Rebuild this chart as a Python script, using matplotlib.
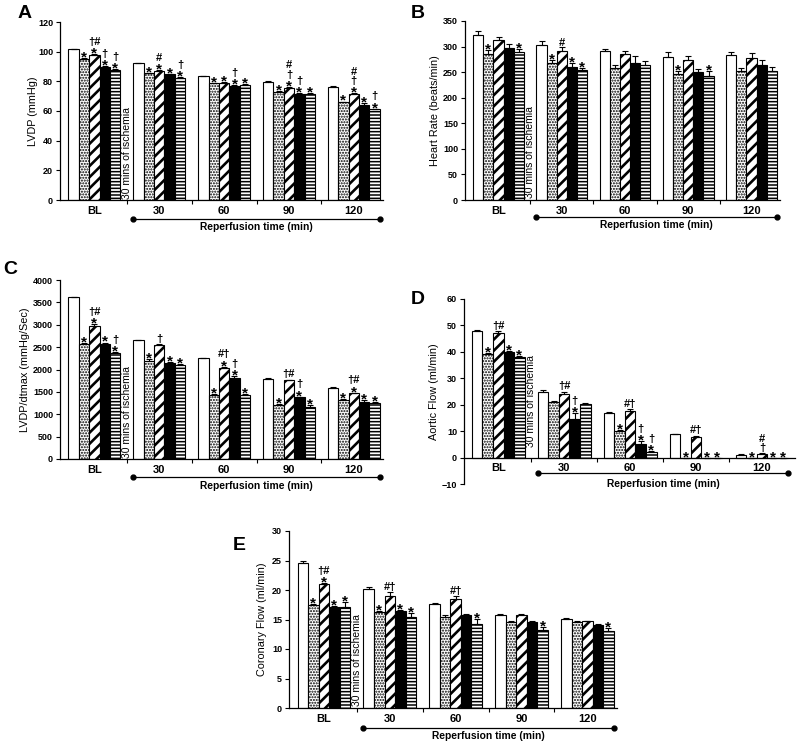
import numpy as np
import matplotlib.pyplot as plt
from matplotlib.textpath import TextPath
from matplotlib.font_manager import FontProperties

plt.rcParams['font.family'] = ['Liberation Sans', 'DejaVu Sans']
plt.rcParams['hatch.linewidth'] = 1.0

groups = ['BL', '30', '60', '90', '120']

# rows = the five bar styles (white, dots, diagonal, black, stripes), cols = groups
lvdp_mean = [[101.6, 92.1, 83.6, 79.8, 76.5],
             [95.3, 85.4, 78.7, 73.0, 65.9],
             [97.5, 87.2, 78.9, 75.7, 71.3],
             [89.9, 84.7, 76.9, 71.5, 63.8],
             [87.8, 82.5, 77.8, 71.5, 61.1]]
lvdp_err = [[0.4, 0.3, 0.3, 0.3, 0.3],
            [0.5, 0.5, 0.4, 0.5, 0.5],
            [0.6, 0.5, 0.4, 0.5, 0.5],
            [0.6, 0.5, 0.5, 0.5, 1.5],
            [0.5, 0.5, 0.5, 0.5, 0.5]]
lvdp_marks = [['', '', '', '', ''],
              ['*', '*', '*', '*', '*'],
              ['†#\n*', '#\n*', '*', '#\n†\n*', '#\n†\n*'],
              ['†\n*', '*', '†\n*', '†\n*', '*'],
              ['†\n*', '†\n*', '*', '*', '†\n*']]

hr_mean = [[323, 303, 291, 280, 284],
           [286, 267, 258, 247, 252],
           [313, 292, 285, 273, 278],
           [297, 260, 267, 250, 263],
           [290, 254, 264, 243, 253]]
hr_err = [[8, 7, 4, 9, 5],
          [7, 6, 6, 5, 6],
          [5, 7, 7, 9, 9],
          [8, 8, 15, 6, 10],
          [6, 5, 7, 10, 8]]
hr_marks = [['', '', '', '', ''],
            ['*', '*', '', '*', ''],
            ['', '#', '', '', ''],
            ['', '*', '', '', ''],
            ['*', '*', '', '*', '']]

dpdt_mean = [[3615, 2655, 2258, 1790, 1590],
             [2571, 2197, 1435, 1200, 1310],
             [2982, 2541, 2040, 1755, 1465],
             [2578, 2137, 1809, 1380, 1275],
             [2369, 2100, 1435, 1160, 1262]]
dpdt_err = [[15, 15, 10, 20, 10],
            [30, 30, 25, 20, 25],
            [30, 35, 25, 20, 20],
            [25, 20, 40, 15, 50],
            [20, 25, 15, 40, 15]]
dpdt_marks = [['', '', '', '', ''],
              ['*', '*', '*', '*', '*'],
              ['†#\n*', '†', '#†\n*', '†#', '†#\n*'],
              ['*', '*', '†\n*', '†\n*', '*'],
              ['†\n*', '*', '*', '*', '*']]

aortic_mean = [[48.0, 25.0, 16.8, 8.8, 1.0],
               [39.2, 20.9, 9.9, 0, 0],
               [47.0, 24.0, 17.8, 7.8, 1.3],
               [40.0, 14.5, 5.3, 0, 0],
               [38.0, 20.1, 2.2, 0, 0]]
aortic_err = [[0.4, 0.4, 0.3, 0.3, 0.2],
              [0.5, 0.6, 0.4, 0, 0],
              [1.0, 1.0, 0.5, 0.5, 0.3],
              [0.5, 2.3, 0.9, 0, 0],
              [0.5, 0.6, 0.3, 0, 0]]
aortic_marks = [['', '', '', '', ''],
                ['*', '', '*', '*', '*'],
                ['†#', '†#', '#†', '#†', '#\n†'],
                ['*', '†\n*', '†\n*', '*', '*'],
                ['*', '', '†\n*', '*', '*']]

coronary_mean = [[24.5, 20.2, 17.7, 15.8, 15.1],
                 [17.4, 16.2, 15.5, 14.5, 14.6],
                 [21.0, 19.0, 18.4, 15.7, 14.7],
                 [17.1, 16.4, 15.8, 14.6, 14.0],
                 [17.2, 15.4, 14.2, 13.2, 13.1]]
coronary_err = [[0.4, 0.3, 0.15, 0.15, 0.1],
                [0.15, 0.3, 0.3, 0.3, 0.2],
                [0.2, 0.6, 0.6, 0.3, 0.1],
                [0.15, 0.2, 0.15, 0.1, 0.2],
                [0.8, 0.7, 0.9, 0.6, 0.5]]
coronary_marks = [['', '', '', '', ''],
                  ['*', '*', '', '', ''],
                  ['†#\n*', '#†', '#†', '', ''],
                  ['*', '*', '', '', ''],
                  ['*', '*', '*', '*', '*']]

colors = ['white', 'white', 'white', 'black', 'white']
hatches = ['', '......', '///', '', '-----']
hatch_lw = [1.0, 1.0, 1.9, 1.0, 1.1]
bar_w = 0.16

mark_font = FontProperties(family='Liberation Sans', weight='bold')


def mark_size(line):
    return 11 if line == '*' else 8


def ink(line):
    ext = TextPath((0, 0), line, size=mark_size(line), prop=mark_font).get_extents()
    return ext.y0, ext.y1


def stack_marks(ax, x, top, txt):
    cur = 1.0  # points above the bar/error bar
    for line in txt.split('\n')[::-1]:
        lo, hi = ink(line)
        base = cur - lo
        ax.annotate(line, (x, top), xytext=(0, base), textcoords='offset points',
                    ha='center', va='baseline', fontsize=mark_size(line), fontweight='bold')
        cur = base + hi + 1.0


def draw_panel(rect, means, errs, marks, ylim, ystep, ylabel, label_x, isch_y, letter, letter_xy,
               line_y=-0.107, text_y=-0.15, xlim=(-0.53, 4.45), zero_spine=False):
    ax = fig.add_axes(rect)
    if zero_spine:
        ax.spines['bottom'].set_position(('data', 0))
    x = np.arange(len(groups))
    for s in range(5):
        xs = x + (s - 2) * bar_w
        bars = ax.bar(xs, means[s], bar_w, color=colors[s], edgecolor='black', linewidth=0.8,
                      hatch=hatches[s], yerr=[np.zeros(5), errs[s]],
                      error_kw=dict(ecolor='black', elinewidth=0.8, capsize=2, capthick=0.8),
                      zorder=2)
        for b in bars:
            if hasattr(b, 'set_hatch_linewidth'):
                b.set_hatch_linewidth(hatch_lw[s])
        for g in range(5):
            if marks[s][g]:
                stack_marks(ax, xs[g], means[s][g] + errs[s][g], marks[s][g])
    ax.set_xlim(*xlim)
    ax.set_ylim(*ylim)
    ax.set_yticks(np.arange(ylim[0], ylim[1] + ystep / 2, ystep))
    ax.set_xticks(x)
    ax.set_xticklabels(groups, fontsize=8, fontweight='bold')
    ax.set_xticks([0.5, 1.5, 2.5, 3.5], minor=True)
    ax.tick_params(axis='x', which='major', length=0, pad=4)
    ax.tick_params(axis='x', which='minor', length=3, width=0.8)
    ax.tick_params(axis='y', length=3, width=0.8, labelsize=6.5, pad=2)
    for lbl in ax.get_yticklabels():
        lbl.set_fontweight('bold')
    for sp in ['top', 'right']:
        ax.spines[sp].set_visible(False)
    for sp in ['left', 'bottom']:
        ax.spines[sp].set_linewidth(0.9)
    ax.set_ylabel(ylabel, fontsize=7.8)
    ax.yaxis.set_label_coords(label_x, 0.5)
    ax.text(0.5, isch_y, '30 mins of ischemia', rotation=90, ha='center', va='bottom',
            fontsize=7.5)
    ax.plot([0.6, 4.4], [line_y, line_y], '-o', color='black', lw=0.9, ms=3.5,
            transform=ax.get_xaxis_transform(), clip_on=False)
    ax.text(2.5, text_y, 'Reperfusion time (min)', transform=ax.get_xaxis_transform(),
            ha='center', va='center', fontsize=7.4, fontweight='bold')
    fig.text(letter_xy[0] / 800, 1 - letter_xy[1] / 745, letter, fontsize=14,
             fontweight='bold', ha='center', va='center')
    return ax


def rect(l, r, t, b):
    return [l / 800, 1 - b / 745, (r - l) / 800, (b - t) / 745]


fig = plt.figure(figsize=(8, 7.45), dpi=100)

draw_panel(rect(60, 383, 22, 200), lvdp_mean, lvdp_err, lvdp_marks, (0, 120), 20,
           'LVDP (mmHg)', -0.068, 1, 'A', (25, 13))
draw_panel(rect(465, 780, 21, 200), hr_mean, hr_err, hr_marks, (0, 350), 50,
           'Heart Rate (beats/min)', -0.079, 3, 'B', (418, 13), line_y=-0.095, text_y=-0.14)
draw_panel(rect(60, 383, 280, 459), dpdt_mean, dpdt_err, dpdt_marks, (0, 4000), 500,
           'LVDP/dtmax (mmHg/Sec)', -0.092, 30, 'C', (10, 270), line_y=-0.10, text_y=-0.15)
draw_panel(rect(464, 795, 299, 484), aortic_mean, aortic_err, aortic_marks, (-10, 60), 10,
           'Aortic Flow (ml/min)', -0.076, 4, 'D', (418, 299), line_y=0.059, text_y=0.0,
           xlim=(-0.52, 4.5), zero_spine=True)
draw_panel(rect(289, 617, 531, 708), coronary_mean, coronary_err, coronary_marks, (0, 30), 5,
           'Coronary Flow (ml/min)', -0.066, 0.3, 'E', (239, 546), line_y=-0.113, text_y=-0.158)

plt.savefig('out.png', dpi=100)
